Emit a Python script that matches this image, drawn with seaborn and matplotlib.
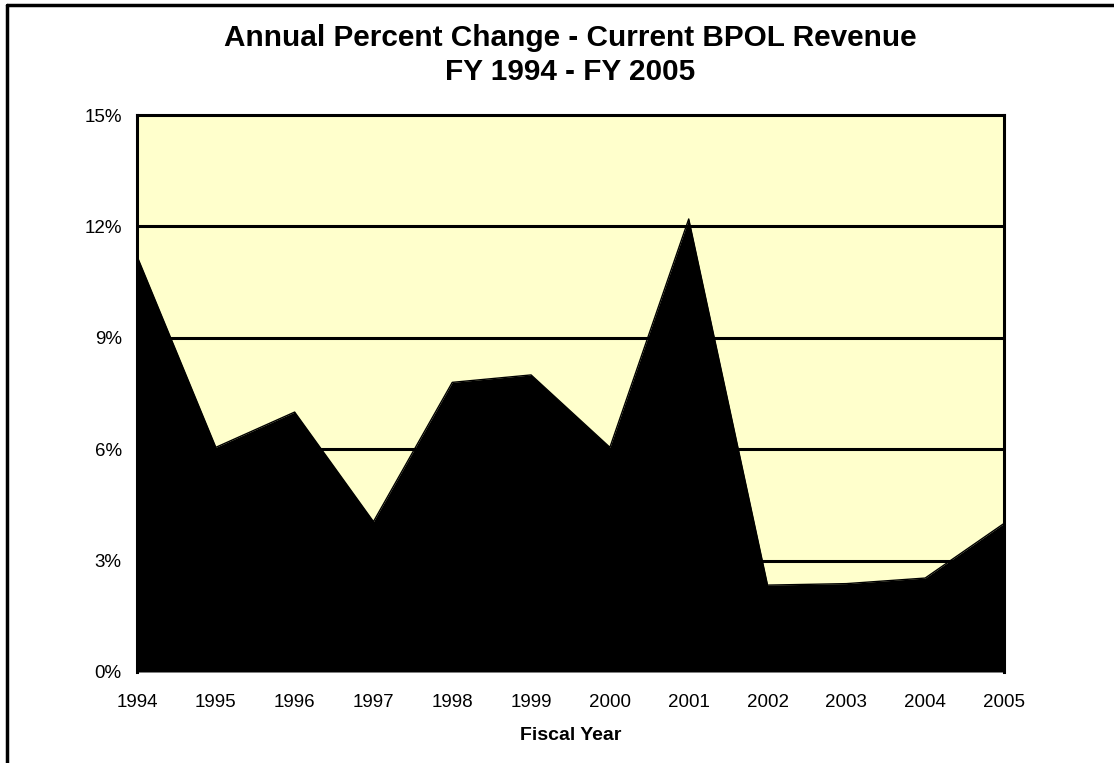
import numpy as np
import pandas as pd
import matplotlib
matplotlib.use("Agg")
import matplotlib.pyplot as plt
from matplotlib.lines import Line2D
import seaborn as sns

# data
years = [1994, 1995, 1996, 1997, 1998, 1999, 2000, 2001, 2002, 2003, 2004, 2005]
pct_change = [11.2, 6.05, 7.0, 4.05, 7.8, 8.0, 6.05, 12.2, 2.34, 2.38, 2.53, 4.0]
y_ticks = [0, 3, 6, 9, 12, 15]

df = pd.DataFrame({"year": years, "pct": pct_change})

sns.set_style("white")
plt.rcParams['font.family'] = ['Liberation Sans', 'DejaVu Sans']
plt.rcParams['text.color'] = 'black'
plt.rcParams['xtick.color'] = 'black'
plt.rcParams['ytick.color'] = 'black'
plt.rcParams['axes.labelcolor'] = 'black'

fig = plt.figure(figsize=(11.14, 7.63), dpi=100)
ax = fig.add_axes([137 / 1114, 91 / 763, 867 / 1114, 557 / 763])
ax.set_facecolor("#FFFFCC")

# grid lines
for t in y_ticks[1:-1]:
    ax.axhline(t, color="black", lw=2.2, zorder=1)

ax.fill_between(df["year"], df["pct"], 0, color="black", lw=0, zorder=2)
sns.lineplot(data=df, x="year", y="pct", color="black", lw=1, ax=ax, zorder=3)

ax.set_xlim(1994, 2005)
ax.set_ylim(0, 15)
ax.set_xticks(years)
ax.set_xticklabels([str(y) for y in years], fontsize=13.5)
ax.set_yticks(y_ticks)
ax.set_yticklabels([f"{t}%" for t in y_ticks], fontsize=13.5)
ax.tick_params(axis="both", length=0)
ax.tick_params(axis="x", pad=16)
ax.tick_params(axis="y", pad=11)

for s in ["left", "top", "right"]:
    ax.spines[s].set_color("black")
    ax.spines[s].set_linewidth(2.2)
ax.spines["bottom"].set_visible(False)

ax.set_xlabel("Fiscal Year", fontsize=14, fontweight="bold", labelpad=11)
ax.set_ylabel("")

title_x = 570 / 1114
fig.text(title_x, 1 - 38 / 763, "Annual Percent Change - Current BPOL Revenue",
         ha="center", va="center", fontsize=21.4, fontweight="bold")
fig.text(title_x, 1 - 72 / 763, "FY 1994 - FY 2005",
         ha="center", va="center", fontsize=21.4, fontweight="bold")

# outer chart border (left and top visible)
fig.add_artist(Line2D([7 / 1114, 7 / 1114], [0, 1 - 5 / 763], color="black", lw=2.5,
                      transform=fig.transFigure))
fig.add_artist(Line2D([7 / 1114, 1], [1 - 5 / 763, 1 - 5 / 763], color="black", lw=2.5,
                      transform=fig.transFigure))

fig.savefig("out.png", dpi=100)
